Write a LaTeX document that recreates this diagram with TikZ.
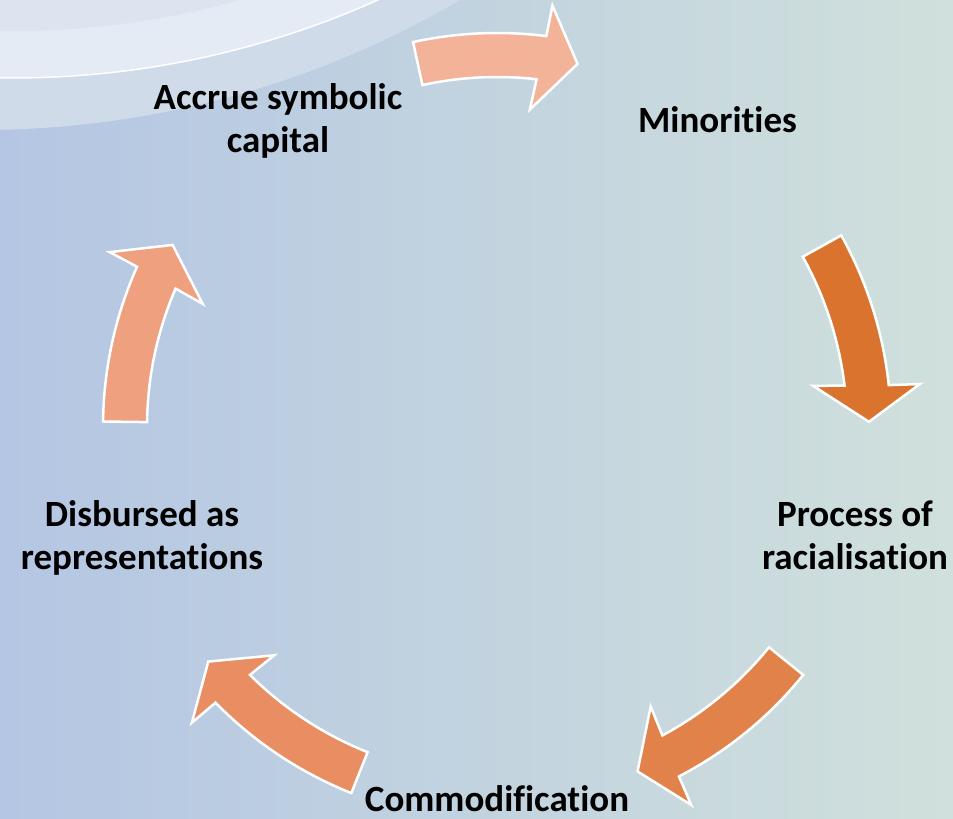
\documentclass[tikz,border=0pt]{standalone}
\usepackage{fontspec}
\setmainfont{Carlito}[Ligatures={NoCommon,NoContextual,NoRequired}]
\definecolor{bgL}{HTML}{B4C6E3}
\definecolor{bgR}{HTML}{D0E0DC}
\definecolor{swA}{HTML}{DCE4EF}
\definecolor{swB}{HTML}{E5EBF4}
\definecolor{swC}{HTML}{D0DBEA}
\definecolor{arA}{HTML}{F3B399}
\definecolor{arB}{HTML}{D9732D}
\definecolor{arC}{HTML}{E1824A}
\definecolor{arD}{HTML}{E88E62}
\definecolor{arE}{HTML}{EEA07F}
\newcommand\cycarrow[3]{%
  \pgfmathsetmacro\aOn{#3+5.3}%
  \pgfmathsetmacro\aIn{#3+6.0}%
  \pgfmathsetmacro\aOc{#3+5.0}%
  \pgfmathsetmacro\aIc{#3+6.6}%
  \filldraw[arr, fill=#1] (#2:394) arc[start angle=#2, end angle=\aOn, radius=394]
    -- (\aOc:425) -- (#3:372) -- (\aIc:319) -- (\aIn:350)
    arc[start angle=\aIn, end angle=#2, radius=350] -- cycle;
}
\begin{document}
\begin{tikzpicture}[x=1pt,y=1pt,
  lbl/.style={font=\bfseries\fontsize{37}{43}\selectfont, align=center, anchor=base, inner sep=0pt, text=black},
  arr/.style={draw=white, line width=2.5pt, line join=miter}]
\useasboundingbox (0,0) rectangle (953,819);
\fill[left color=bgL, right color=bgR] (0,0) rectangle (953,819);
\begin{scope}
  \clip (0,0) rectangle (953,819);
  \fill[swC] (-20,1639) circle[radius=950];
  \fill[swB] (12,1635) circle[radius=894];
  \draw[white, line width=1.5pt] (12,1635) circle[radius=894];
  \fill[swA] (12,1635) circle[radius=847];
\end{scope}
\begin{scope}[shift={(497,392)}]
  \cycarrow{arA}{102.3}{77.5}
  \cycarrow{arB}{29.1}{0.8}
  \cycarrow{arC}{-39.0}{-67.8}
  \cycarrow{arD}{-111.7}{-140.9}
  \cycarrow{arE}{179.2}{150.7}
\end{scope}
\node[lbl] (min) at (717.5,686) {Minorities};
\node[lbl] (proc) at (855,249) {Process of\\racialisation};
\node[lbl] (comm) at (497,7) {Commodification};
\node[lbl] (disb) at (142,249) {Disbursed as\\representations};
\node[lbl] (accr) at (278,666) {Accrue symbolic\\capital};
\end{tikzpicture}
\end{document}
